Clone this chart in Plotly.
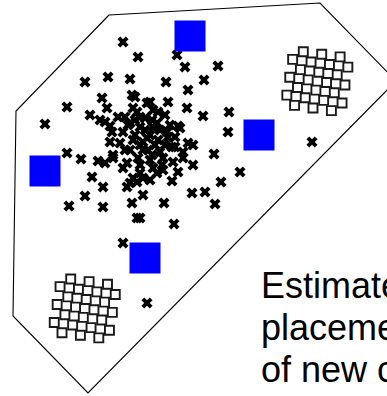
import plotly.graph_objects as go

# Polygon outline (convex hull) vertices
hull_x = [109, 320, 396, 88, 13, 16, 109]
hull_y = [15, 3, 81, 393, 316, 111, 15]

# Data points (x markers)
pts_x = [123, 138, 177, 185, 218, 108, 130, 85, 166, 204, 188, 67, 45, 102, 107, 135, 90, 100, 125, 130,
         110, 137, 187, 168, 147, 153, 165, 178, 203, 229, 228, 180, 193, 214, 193, 240, 221, 205, 192, 312,
         67, 81, 98, 92, 103, 85, 69, 103, 127, 137, 143, 132, 164, 137, 174, 215, 123, 147, 140, 172,
         157, 143,
         132, 150, 105, 118, 133, 140, 158, 188, 173, 178, 150, 133, 105, 113, 110, 123, 140, 153,
         167, 172, 160, 143, 130, 127, 140, 153, 163, 147, 158, 133, 120, 175, 183, 112, 113, 123,
         130, 140, 163, 183, 175, 168, 145, 150, 155, 140, 148, 160, 135, 152, 145, 165, 138, 150,
         128, 170, 162, 157, 143, 152, 135, 125]
pts_y = [42, 57, 55, 67, 66, 77, 79, 82, 82, 80, 90, 107, 124, 98, 108, 97, 115, 120, 117, 123,
         126, 112, 108, 102, 103, 110, 115, 126, 116, 112, 132, 128, 145, 154, 165, 172, 182, 192, 193, 142,
         153, 159, 161, 177, 187, 196, 206, 207, 187, 182, 195, 203, 203, 218, 224, 204, 243, 303, 218, 181,
         173, 178,
         95, 102, 122, 117, 108, 117, 112, 143, 162, 172, 180, 178, 163, 155, 142, 132, 127, 127,
         132, 147, 152, 150, 150, 163, 165, 168, 158, 138, 140, 140, 143, 137, 152, 132, 158, 168,
         183, 173, 170, 158, 147, 137, 130, 135, 145, 145, 150, 130, 135, 120, 118, 145, 158, 160,
         125, 125, 165, 123, 142, 155, 120, 150]

# Estimated centroids (blue squares)
cent_x = [190, 45, 259, 145]
cent_y = [36, 171, 135, 258]

# Checkerboard grids of open squares: origins and lattice steps
grid_origin_x = [303.3, 70.7]
grid_origin_y = [51.7, 279.0]
step_a = (9.2, 1.3)
step_b = (-1.45, 8.95)
grid_i = list(range(-1, 6))
grid_j = list(range(0, 7))

# Caption lines
caption_lines = ["Estimated", "placement", "of new centroids"]
caption_tops = [263, 305, 347]

gx, gy = [], []
for ox, oy in zip(grid_origin_x, grid_origin_y):
    for j in grid_j:
        for i in grid_i:
            if (i + j) % 2 == 0:
                gx.append(ox + i * step_a[0] + j * step_b[0])
                gy.append(oy + i * step_a[1] + j * step_b[1])

fig = go.Figure()
fig.add_trace(go.Scatter(x=hull_x, y=hull_y, mode="lines",
                         line=dict(color="black", width=1.1), hoverinfo="skip"))
fig.add_trace(go.Scatter(x=gx, y=gy, mode="markers",
                         marker=dict(symbol="square-open", size=9, color="#1a1a1a",
                                     line=dict(color="#1a1a1a", width=1.9)),
                         hoverinfo="skip"))
fig.add_trace(go.Scatter(x=pts_x, y=pts_y, mode="markers",
                         marker=dict(symbol="x", size=9.8, color="black",
                                     line=dict(width=0)),
                         hoverinfo="skip"))
fig.add_trace(go.Scatter(x=cent_x, y=cent_y, mode="markers",
                         marker=dict(symbol="square", size=31, color="#0000ff",
                                     line=dict(width=0)),
                         hoverinfo="skip"))

for txt, top in zip(caption_lines, caption_tops):
    fig.add_annotation(x=259, y=top, xref="x", yref="y", xanchor="left", yanchor="top",
                       text=txt, showarrow=False, align="left",
                       font=dict(family="Liberation Sans, Arial", size=36, color="black"))

fig.update_layout(width=387, height=396, margin=dict(l=0, r=0, t=0, b=0),
                  paper_bgcolor="white", plot_bgcolor="white", showlegend=False,
                  xaxis=dict(range=[0, 387], visible=False),
                  yaxis=dict(range=[396, 0], visible=False))
fig.write_html("out.html", config={"displayModeBar": False},
               post_script="document.body.style.margin='0px';document.body.style.overflow='hidden';")
